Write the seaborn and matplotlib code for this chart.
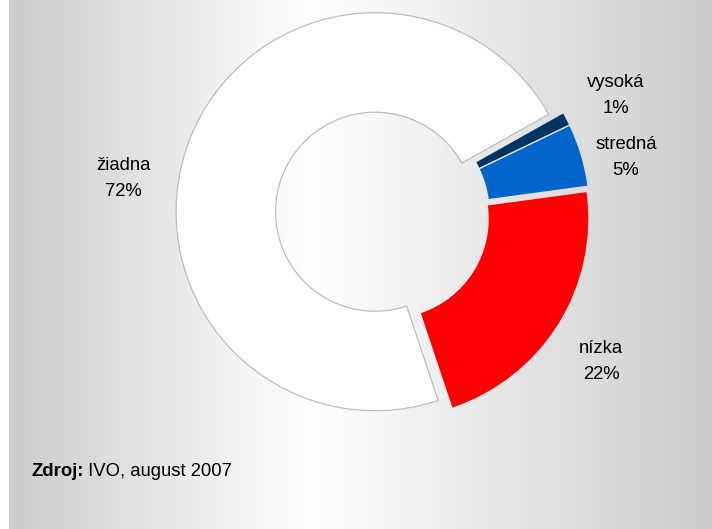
import numpy as np
import matplotlib
matplotlib.use("Agg")
import matplotlib.pyplot as plt
import seaborn as sns

# ---- data ----
categories = ["nízka", "stredná", "vysoká", "žiadna"]
values = [22, 5, 1, 72]
pct_labels = ["22%", "5%", "1%", "72%"]
colors = ["#ff0000", "#0066cc", "#003366", "#ffffff"]
source_bold = "Zdroj:"
source_text = " IVO, august 2007"

sns.set_style("white")
plt.rcParams['font.family'] = ['Liberation Sans', 'DejaVu Sans']

W, H = 712, 529
FS = 13.3
fig = plt.figure(figsize=(W / 100, H / 100), dpi=100)
fig.patch.set_facecolor("white")

# background gradient
bg = fig.add_axes([9 / W, 0, 1 - 9 / W, 1])
xs = np.linspace(9, W, 800)
peak = 310
g = np.where(xs < peak, 0.80 + 0.20 * (xs - 9) / (peak - 9),
             1.0 - 0.20 * (xs - peak) / (W - peak))
img = np.dstack([np.tile(g, (2, 1))] * 3)
bg.imshow(img, aspect='auto', extent=[0, 1, 0, 1], interpolation='bilinear')
bg.set_axis_off()

# donut
ax = fig.add_axes([0, 0, 1, 1])
ax.patch.set_alpha(0)
cx, cy, R = 382.5, 214.6, 199.0
wedges, _ = ax.pie(values, colors=colors, startangle=-71.5, counterclock=True,
                   explode=[0.04] * len(values), radius=1,
                   wedgeprops=dict(width=0.5, linewidth=0))
wedges[3].set_edgecolor("#bdbdbd")
wedges[3].set_linewidth(0.9)
ax.set_aspect('auto')
ax.set_xlim(-cx / R, (W - cx) / R)
ax.set_ylim(-(H - cy) / R, cy / R)
ax.set_axis_off()

# labels (last-line baseline, pixel coords)
label_pos = {"nízka": (601, 379), "stredná": (626, 175),
             "vysoká": (616, 113), "žiadna": (123, 196)}
for cat, pct in zip(categories, pct_labels):
    px, py = label_pos[cat]
    fig.text(px / W, 1 - py / H, f"{cat}\n{pct}", ha='center', va='baseline',
             multialignment='center', fontsize=FS, linespacing=1.7, color='black')

t1 = fig.text(31 / W, 1 - 476.5 / H, source_bold, fontsize=FS, fontweight='bold',
              ha='left', va='baseline', color='black')
ax.annotate(source_text, xy=(1, 0), xycoords=t1, ha='left', va='bottom',
            fontsize=FS, color='black')

fig.savefig("out.png", dpi=100)
